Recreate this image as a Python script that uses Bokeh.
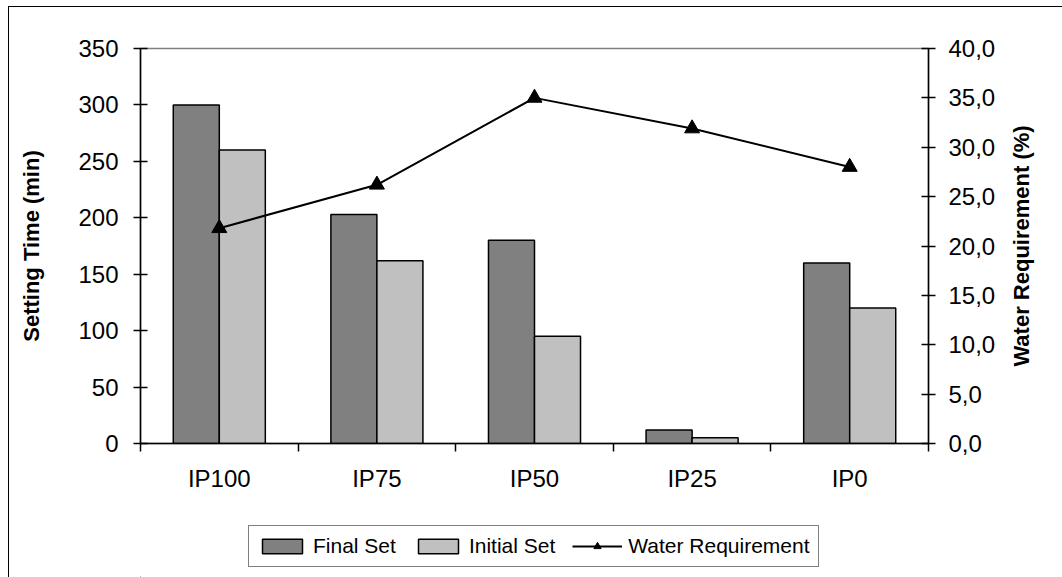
from bokeh.plotting import figure
from bokeh.layouts import column, row
from bokeh.models import (Range1d, LinearAxis, FixedTicker, CustomJSTickFormatter,
                          Legend, LegendItem, ColumnDataSource)
from bokeh.embed import file_html
from bokeh.resources import INLINE

# Setting time and water requirement per mix
categories = ["IP100", "IP75", "IP50", "IP25", "IP0"]
final_set = [300, 203, 180, 12, 160]
initial_set = [260, 162, 95, 5, 120]
water_req = [21.8, 26.2, 35.0, 31.9, 28.0]

left_ticks = [0, 50, 100, 150, 200, 250, 300, 350]
right_ticks = [0, 5, 10, 15, 20, 25, 30, 35, 40]
LEFT_MAX = 350
RIGHT_MAX = 40

FONT = "Liberation Sans"
TICK_SIZE = "24px"
TITLE_SIZE = "22px"
BAR_W = 0.292
FINAL_COLOR = "#808080"
INITIAL_COLOR = "#C0C0C0"

# shared borders so the chart, the title strip and the legend strip line up
BORDER_L, BORDER_R, BORDER_T, BORDER_B = 131, 71, 41, 50
MAIN_W, MAIN_H = 990, 487
TITLE_W = 63
LEGEND_H = 83

centers = [i + 0.5 for i in range(len(categories))]
src = ColumnDataSource(dict(
    x_final=[c - BAR_W / 2 for c in centers],
    x_init=[c + BAR_W / 2 for c in centers],
    xc=centers,
    final=final_set,
    initial=initial_set,
    water=water_req,
))

p = figure(width=MAIN_W, height=MAIN_H, output_backend="svg", toolbar_location=None,
           x_range=Range1d(0, len(categories)), y_range=Range1d(0, LEFT_MAX),
           min_border_left=BORDER_L, min_border_right=BORDER_R,
           min_border_top=BORDER_T, min_border_bottom=BORDER_B)
p.background_fill_color = "white"
p.border_fill_color = "white"
p.outline_line_color = "#808080"
p.outline_line_width = 1.5
p.xgrid.visible = False
p.ygrid.visible = False
p.extra_y_ranges = {"water": Range1d(0, RIGHT_MAX)}

p.vbar(x="x_final", top="final", width=BAR_W, source=src,
       fill_color=FINAL_COLOR, line_color="black", line_width=1.5)
p.vbar(x="x_init", top="initial", width=BAR_W, source=src,
       fill_color=INITIAL_COLOR, line_color="black", line_width=1.5)
p.line(x="xc", y="water", source=src, y_range_name="water",
       line_color="black", line_width=2)
p.scatter(x="xc", y="water", source=src, y_range_name="water",
          marker="triangle", size=15, fill_color="black", line_color="black")

# category axis: labels at centres, tick marks between categories
xa = p.xaxis[0]
xa.ticker = FixedTicker(ticks=centers, minor_ticks=list(range(len(categories) + 1)))
xa.major_label_overrides = {c: name for c, name in zip(centers, categories)}
xa.major_tick_line_color = None
xa.major_tick_out = 0
xa.major_tick_in = 0
xa.minor_tick_line_color = "black"
xa.minor_tick_out = 8
xa.minor_tick_in = 0
xa.major_label_standoff = 13
xa.axis_line_color = "black"
xa.axis_line_width = 1.5

ya = p.yaxis[0]
ya.ticker = FixedTicker(ticks=left_ticks)
ya.axis_label = "Setting Time (min)"
ya.minor_tick_line_color = None
ya.major_tick_in = 7
ya.major_tick_out = 7
ya.major_label_standoff = 15
ya.axis_label_standoff = 31
ya.axis_line_color = "black"
ya.axis_line_width = 1.5

yr = LinearAxis(y_range_name="water")
yr.ticker = FixedTicker(ticks=right_ticks)
yr.formatter = CustomJSTickFormatter(code="return tick.toFixed(1).replace('.', ',');")
yr.minor_tick_line_color = None
yr.major_tick_in = 7
yr.major_tick_out = 7
yr.major_label_standoff = 13
yr.axis_line_color = "black"
yr.axis_line_width = 1.5
p.add_layout(yr, "right")

for ax in (xa, ya, yr):
    ax.major_label_text_font = FONT
    ax.major_label_text_font_size = TICK_SIZE
    ax.major_label_text_color = "black"
    ax.axis_label_text_font = FONT
    ax.axis_label_text_font_size = TITLE_SIZE
    ax.axis_label_text_font_style = "bold"
    ax.axis_label_text_color = "black"
    ax.major_tick_line_width = 1.5
    ax.minor_tick_line_width = 1.5

# strip carrying the right-hand title, read bottom to top like the left one
tf = figure(width=TITLE_W, height=MAIN_H, output_backend="svg", toolbar_location=None,
            x_range=Range1d(0, 1), y_range=Range1d(0, RIGHT_MAX),
            x_axis_type=None, y_axis_type=None,
            min_border_left=39, min_border_right=0,
            min_border_top=BORDER_T, min_border_bottom=BORDER_B)
tf.outline_line_color = None
tf.xgrid.visible = False
tf.ygrid.visible = False
tf.background_fill_color = "white"
tf.border_fill_color = "white"
t_axis = LinearAxis(axis_label="Water Requirement (%)", ticker=FixedTicker(ticks=[]))
t_axis.axis_line_color = None
t_axis.major_tick_line_color = None
t_axis.minor_tick_line_color = None
t_axis.major_tick_out = 0
t_axis.major_tick_in = 0
t_axis.major_label_standoff = 0
t_axis.axis_label_standoff = 5
t_axis.axis_label_text_font = FONT
t_axis.axis_label_text_font_size = TITLE_SIZE
t_axis.axis_label_text_font_style = "bold"
t_axis.axis_label_text_color = "black"
tf.add_layout(t_axis, "left")

# legend strip under the chart; its key glyphs sit outside the visible range
lf = figure(width=MAIN_W, height=LEGEND_H, output_backend="svg", toolbar_location=None,
            x_range=Range1d(0, 1), y_range=Range1d(0, 1),
            x_axis_type=None, y_axis_type=None,
            min_border_left=BORDER_L, min_border_right=BORDER_R,
            min_border_top=0, min_border_bottom=0)
lf.outline_line_color = None
lf.xgrid.visible = False
lf.ygrid.visible = False
lf.background_fill_color = "white"
lf.border_fill_color = "white"
key_src = ColumnDataSource(dict(x=[-5, -4], y=[-5, -4]))
g_final = lf.vbar(x="x", top="y", width=0.5, source=key_src,
                  fill_color=FINAL_COLOR, line_color="black", line_width=1.5)
g_init = lf.vbar(x="x", top="y", width=0.5, source=key_src,
                 fill_color=INITIAL_COLOR, line_color="black", line_width=1.5)
g_line = lf.line(x="x", y="y", source=key_src, line_color="black", line_width=2)
g_mark = lf.scatter(x="x", y="y", source=key_src, marker="triangle", size=15,
                    fill_color="black", line_color="black")

legend = Legend(items=[
    LegendItem(label="Final Set", renderers=[g_final], index=0),
    LegendItem(label="Initial Set", renderers=[g_init], index=0),
    LegendItem(label="Water Requirement", renderers=[g_line, g_mark], index=0),
], orientation="horizontal", location=(108, 10))
legend.label_text_font = FONT
legend.label_text_font_size = "21px"
legend.label_text_color = "black"
legend.glyph_width = 50
legend.glyph_height = 18
legend.label_standoff = 6
legend.spacing = 17
legend.padding = 8
legend.margin = 0
legend.border_line_color = "black"
legend.border_line_width = 1.5
legend.background_fill_color = "white"
legend.background_fill_alpha = 1
lf.add_layout(legend, "center")

page = column(row(p, tf, spacing=0), lf, spacing=0, margin=(6, 0, 0, 8),
              styles={"border-left": "1px solid black", "border-top": "1px solid black"})

open("out.html", "w").write(file_html(page, INLINE))
